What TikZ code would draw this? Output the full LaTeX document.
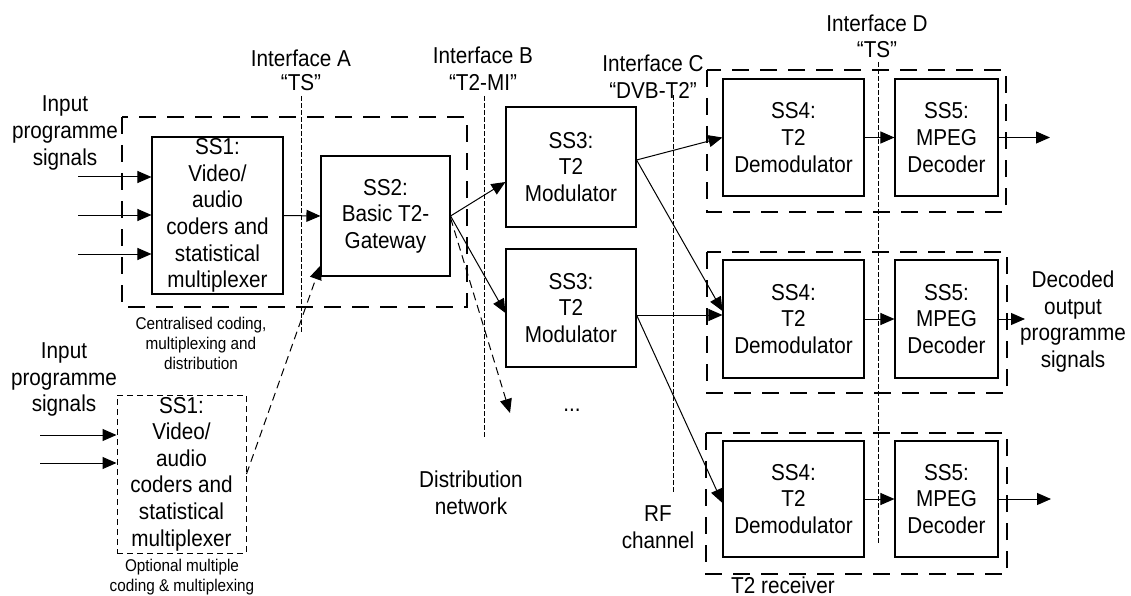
\documentclass[tikz,border=0pt]{standalone}
\usepackage{fontspec}
\setmainfont[FakeStretch=0.9]{Liberation Sans}
\usetikzlibrary{arrows.meta}
\newcommand\mainfs{\fontsize{23}{26.6}\selectfont}
\newcommand\smallfs{\fontsize{17}{20}\selectfont}
\begin{document}
\begin{tikzpicture}[x=1pt,y=-1pt,
  blk/.style={draw, line width=1.1pt, inner sep=0pt, align=center, font=\mainfs},
  dblk/.style={blk, dash pattern=on 6pt off 4pt, line width=1pt},
  lbl/.style={inner sep=0pt, align=center, font=\mainfs},
  slbl/.style={inner sep=0pt, align=center, font=\smallfs},
  grp/.style={line width=1.1pt, dash pattern=on 17pt off 11pt},
  ifl/.style={line width=0.8pt, dash pattern=on 5pt off 2pt},
  arr/.style={line width=1pt, -{Triangle[length=14pt,width=12pt]}},
  darr/.style={arr, dash pattern=on 8pt off 5pt}]
\useasboundingbox (0,0) rectangle (1131,596);

% group boxes
\draw[grp] (122,117) rectangle (467,307);
\draw[grp] (707,70) rectangle (1006,212);
\draw[grp] (707,252) rectangle (1007,393);
\draw[grp] (706,433) rectangle (1007,574);

% interface lines
\draw[ifl] (301,96) -- (301,333);
\draw[ifl] (484,96) -- (484,438);
\draw[ifl] (673,95) -- (673,492);
\draw[ifl] (878,62) -- (878,543);

% interface labels
\node[lbl] (ia) at (301,58) {Interface A};
\node[lbl] (iaq) at (301,83) {“TS”};
\node[lbl] (ib) at (483,55) {Interface B};
\node[lbl] (ibq) at (483,82) {“T2-MI”};
\node[lbl] (ic) at (653,63) {Interface C};
\node[lbl] (icq) at (653,90) {“DVB-T2”};
\node[lbl] (id) at (877,23) {Interface D};
\node[lbl] (idq) at (877,50) {“TS”};

% blocks
\node[blk, minimum width=131pt, minimum height=157pt] (ss1a) at (217.5,215.5) {SS1:\\Video/\\audio\\coders and\\statistical\\multiplexer};
\node[dblk, minimum width=129pt, minimum height=158pt] (ss1b) at (181.5,474) {SS1:\\Video/\\audio\\coders and\\statistical\\multiplexer};
\node[blk, minimum width=129pt, minimum height=120pt] (ss2) at (385.5,216) {SS2:\\Basic T2-\\Gateway};
\node[blk, minimum width=130pt, minimum height=120pt] (ss3a) at (571,167) {SS3:\\T2\\Modulator};
\node[blk, minimum width=130pt, minimum height=118pt] (ss3b) at (571,308) {SS3:\\T2\\Modulator};
\node[blk, minimum width=141pt, minimum height=117pt] (ss4a) at (793.5,137.5) {SS4:\\T2\\Demodulator};
\node[blk, minimum width=103pt, minimum height=117pt] (ss5a) at (946.5,137.5) {SS5:\\MPEG\\Decoder};
\node[blk, minimum width=141pt, minimum height=118pt] (ss4b) at (793.5,319) {SS4:\\T2\\Demodulator};
\node[blk, minimum width=103pt, minimum height=118pt] (ss5b) at (946.5,319) {SS5:\\MPEG\\Decoder};
\node[blk, minimum width=141pt, minimum height=116pt] (ss4c) at (793.5,499) {SS4:\\T2\\Demodulator};
\node[blk, minimum width=103pt, minimum height=116pt] (ss5c) at (946.5,499) {SS5:\\MPEG\\Decoder};

% text labels
\node[lbl] (inpa) at (65,133) {Input\\programme\\signals};
\node[lbl] (inpb) at (64,379.5) {Input\\programme\\signals};
\node[slbl] (cent) at (201,343) {Centralised coding,\\multiplexing and\\distribution};
\node[slbl, font=\fontsize{17}{19.5}\selectfont] (opt) at (182,577) {Optional multiple\\coding \& multiplexing};
\node[lbl] (dist) at (471,493) {Distribution\\network};
\node[lbl] (rf) at (658,527) {RF\\channel};
\node[lbl] (dec) at (1073,321.5) {Decoded\\output\\programme\\signals};
\node[lbl] (t2r) at (783,585) {T2 receiver};
\node[lbl] (dots) at (572,410) {...};

% input arrows
\coordinate (i1) at (78,177);
\coordinate (i2) at (78,215);
\coordinate (i3) at (78,254);
\coordinate (i4) at (40,435);
\coordinate (i5) at (40,463);
\draw[arr] (i1) -- (i1 -| ss1a.west);
\draw[arr] (i2) -- (i2 -| ss1a.west);
\draw[arr] (i3) -- (i3 -| ss1a.west);
\draw[arr] (i4) -- (i4 -| ss1b.west);
\draw[arr] (i5) -- (i5 -| ss1b.west);

% main chain
\draw[arr] (ss1a.east) -- (ss2.west);
\draw[darr] (ss1b.east) -- ([yshift=11pt]ss2.south west);
\draw[arr] (ss2.east) -- ([yshift=-15pt]ss3a.west);
\draw[arr] (ss2.east) -- ([yshift=-5pt]ss3b.west);
\coordinate (dend) at (510,413);
\draw[darr] ([yshift=-2pt]ss2.east) -- (dend);

\coordinate (a3) at ([yshift=7pt]ss3a.east);
\draw[arr] (a3) -- (ss4a.west);
\draw[arr] (a3) -- ([yshift=8pt]ss4b.west);
\coordinate (b3) at ([yshift=-7pt]ss3b.east);
\draw[arr] (b3) -- (b3 -| ss4b.west);
\draw[arr] (b3) -- ([yshift=-4pt]ss4c.west);

\draw[arr] (ss4a.east) -- (ss5a.west);
\draw[arr] (ss4b.east) -- (ss5b.west);
\draw[arr] (ss4c.east) -- (ss5c.west);

\coordinate (o1) at (1050,137.5);
\coordinate (o2) at (1025,319);
\coordinate (o3) at (1051,499);
\draw[arr] (ss5a.east) -- (o1);
\draw[arr] (ss5b.east) -- (o2);
\draw[arr] (ss5c.east) -- (o3);
\end{tikzpicture}
\end{document}
